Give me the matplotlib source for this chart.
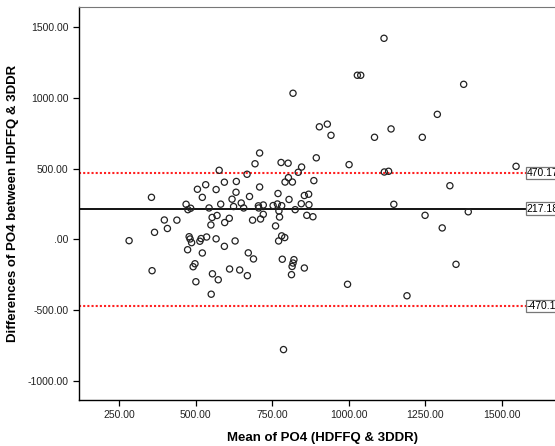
import matplotlib
matplotlib.use('Agg')
import matplotlib.pyplot as plt
from matplotlib.ticker import FuncFormatter

plt.rcParams['font.family'] = ['Liberation Sans', 'DejaVu Sans']

# Bland-Altman data: mean of both methods vs difference
mean_po4 = [283, 356, 358, 366, 398, 408, 439, 469, 475, 484,
            474, 479, 482, 487, 492, 498, 501, 506, 514, 518,
            522, 522, 533, 536, 544, 551, 555, 550, 554, 567,
            567, 570, 574, 577, 582, 594, 595, 594, 610, 611,
            619, 624, 629, 633, 632, 644, 649, 657, 668, 669,
            672, 676, 686, 689, 694, 709, 709, 705, 706, 712,
            721, 721, 761, 769, 753, 767, 781, 772, 774, 771,
            781, 791, 783, 821, 818, 815, 813, 855, 787, 779,
            802, 846, 835, 803, 792, 816, 886, 855, 869, 805,
            845, 870, 825, 863, 883, 818, 904, 930, 942, 894,
            1001, 996, 1028, 1039, 1115, 1084, 1138, 1116, 1130, 1147,
            1190, 1240, 1249, 1289, 1305, 1330, 1350, 1375, 1390, 1546]
diff_po4 = [-9, 297, -221, 50, 137, 77, 136, 248, 210, 220,
            -73, 19, 3, -23, -193, -172, -299, 354, -13, 6,
            -96, 297, 386, 17, 222, -387, -243, 102, 155, 4,
            352, 169, -285, 488, 249, 404, 119, -49, 149, -209,
            284, 232, -11, 409, 333, -216, 257, 222, 460, -256,
            -95, 303, 136, -138, 534, 610, 370, 237, 222, 144,
            177, 243, 95, 324, 239, 250, 238, 201, 158, -11,
            25, 13, -140, -143, -167, -191, -249, -202, -778, 543,
            538, 511, 474, 436, 405, 405, 415, 310, 319, 282,
            252, 245, 210, 170, 160, 1032, 795, 814, 735, 576,
            528, -317, 1159, 1159, 1420, 721, 780, 476, 481, 248,
            -398, 721, 170, 883, 81, 379, -176, 1095, 195, 516]

mean_diff = 217.18
upper_loa = 470.17
lower_loa = -470.17
x_ticks = [250, 500, 750, 1000, 1250, 1500]
y_ticks = [-1000, -500, 0, 500, 1000, 1500]


def spss_fmt(v, pos):
    s = f'{v:.2f}'
    if s == '0.00':
        return '.00'
    return s


fig = plt.figure(figsize=(5.55, 4.46), dpi=100)
ax = fig.add_axes([79 / 555, 46 / 446, 487 / 555, 393 / 446])

ax.scatter(mean_po4, diff_po4, s=20, facecolors='none', edgecolors='#222222',
           linewidths=0.9, zorder=3)

ax.axhline(mean_diff, color='black', lw=1.3, zorder=2)
ax.axhline(upper_loa, color='#ff2020', lw=1.5, ls=(0, (1, 1)), zorder=2)
ax.axhline(lower_loa, color='#ff2020', lw=1.5, ls=(0, (1, 1)), zorder=2)

for val, txt in [(upper_loa, '470.17'), (mean_diff, '217.18'), (lower_loa, '-470.17')]:
    ax.text(1581, val, txt, fontsize=7.5, ha='left', va='center', zorder=4,
            bbox=dict(boxstyle='square,pad=0.12', facecolor='white', edgecolor='#777777', lw=0.9))

ax.set_xlim(119.5, 1709)
ax.set_ylim(-1134, 1641)
ax.set_xticks(x_ticks)
ax.set_yticks(y_ticks)
ax.xaxis.set_major_formatter(FuncFormatter(spss_fmt))
ax.yaxis.set_major_formatter(FuncFormatter(spss_fmt))
ax.tick_params(labelsize=7.5, length=4, width=0.9, colors='black', labelcolor='#222222')

ax.spines['right'].set_visible(False)
ax.spines['top'].set_color('#777777')
for sp in ['left', 'bottom']:
    ax.spines[sp].set_linewidth(1.0)

ax.set_xlabel('Mean of PO4 (HDFFQ & 3DDR)', fontsize=9.5, fontweight='bold', labelpad=8)
ax.set_ylabel('Differences of PO4 between HDFFQ & 3DDR', fontsize=9.5, fontweight='bold', labelpad=6)

fig.savefig('out.png', dpi=100)
